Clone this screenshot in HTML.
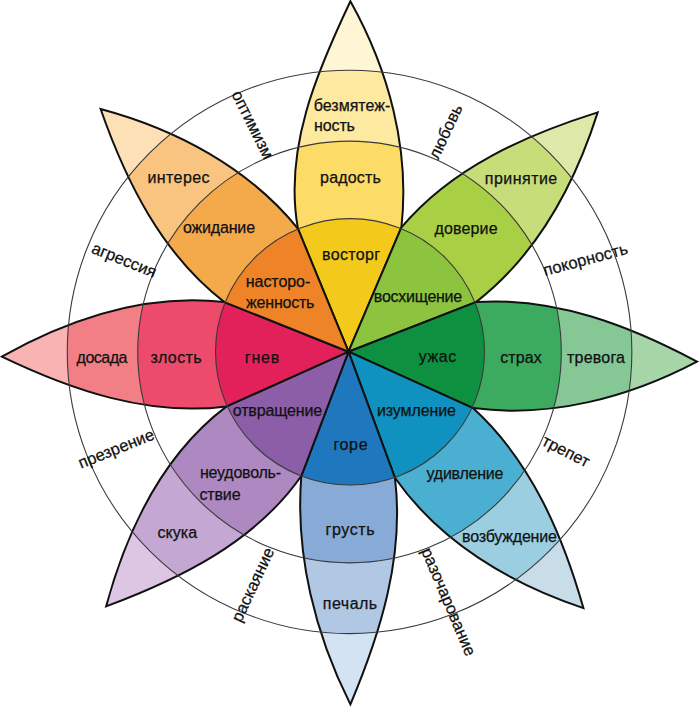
<!DOCTYPE html><html><head><meta charset="utf-8"><style>html,body{margin:0;padding:0;background:#fff;width:700px;height:707px;overflow:hidden}svg{display:block}text{font-family:"Liberation Sans",sans-serif}</style></head><body><svg width="700" height="707" viewBox="0 0 700 707"><defs><clipPath id="p0"><path d="M348.50,351.70 L297.90,228.60 C283.64,148.25 317.08,71.60 350.40,1.30 C388.47,69.55 410.17,148.78 401.40,227.40 Z"/></clipPath><clipPath id="p1"><path d="M348.50,351.70 L401.40,227.40 C451.67,167.50 525.11,135.28 597.70,112.40 C574.71,184.52 536.92,254.74 476.00,302.10 Z"/></clipPath><clipPath id="p2"><path d="M348.50,351.70 L476.00,302.10 C554.28,296.52 629.40,325.60 697.00,361.60 C628.84,397.50 550.46,418.31 473.00,408.10 Z"/></clipPath><clipPath id="p3"><path d="M348.50,351.70 L473.00,408.10 C530.88,460.73 562.49,534.54 583.40,608.10 C510.22,583.71 439.96,542.11 394.90,477.70 Z"/></clipPath><clipPath id="p4"><path d="M348.50,351.70 L394.90,477.70 C404.70,556.13 380.37,633.27 350.40,704.40 C315.14,634.18 295.09,554.98 301.30,476.00 Z"/></clipPath><clipPath id="p5"><path d="M348.50,351.70 L301.30,476.00 C254.78,542.52 179.54,578.88 106.10,606.40 C126.67,530.80 162.22,454.89 226.60,406.40 Z"/></clipPath><clipPath id="p6"><path d="M348.50,351.70 L226.60,406.40 C148.05,416.66 71.25,389.95 1.80,356.60 C68.97,318.97 146.24,293.06 224.40,302.10 Z"/></clipPath><clipPath id="p7"><path d="M348.50,351.70 L224.40,302.10 C161.91,254.06 125.98,181.46 100.60,109.00 C175.62,129.15 248.20,167.26 297.90,228.60 Z"/></clipPath></defs><rect width="700" height="707" fill="#fff"/><g clip-path="url(#p0)"><rect width="700" height="707" fill="#fef6d4"/><ellipse cx="349.55" cy="351.9" rx="282.3" ry="281.7" fill="#fde9a0"/><ellipse cx="349.5" cy="352.0" rx="211.8" ry="210.9" fill="#fcdc66"/><ellipse cx="350.0" cy="351.8" rx="134.5" ry="133.2" fill="#f3c91b"/></g><path d="M348.50,351.70 L297.90,228.60 C283.64,148.25 317.08,71.60 350.40,1.30 C388.47,69.55 410.17,148.78 401.40,227.40 Z" fill="none" stroke="#111" stroke-width="2.0" stroke-linejoin="miter" stroke-miterlimit="2.4"/><g clip-path="url(#p1)"><rect width="700" height="707" fill="#dde8a9"/><ellipse cx="349.55" cy="351.9" rx="282.3" ry="281.7" fill="#c6dd7a"/><ellipse cx="349.5" cy="352.0" rx="211.8" ry="210.9" fill="#a9cf45"/><ellipse cx="350.0" cy="351.8" rx="134.5" ry="133.2" fill="#8cc43f"/></g><path d="M348.50,351.70 L401.40,227.40 C451.67,167.50 525.11,135.28 597.70,112.40 C574.71,184.52 536.92,254.74 476.00,302.10 Z" fill="none" stroke="#111" stroke-width="2.0" stroke-linejoin="miter" stroke-miterlimit="2.4"/><g clip-path="url(#p2)"><rect width="700" height="707" fill="#a6d5a8"/><ellipse cx="349.55" cy="351.9" rx="282.3" ry="281.7" fill="#85c795"/><ellipse cx="349.5" cy="352.0" rx="211.8" ry="210.9" fill="#3cab5f"/><ellipse cx="350.0" cy="351.8" rx="134.5" ry="133.2" fill="#0e9041"/></g><path d="M348.50,351.70 L476.00,302.10 C554.28,296.52 629.40,325.60 697.00,361.60 C628.84,397.50 550.46,418.31 473.00,408.10 Z" fill="none" stroke="#111" stroke-width="2.0" stroke-linejoin="miter" stroke-miterlimit="2.4"/><g clip-path="url(#p3)"><rect width="700" height="707" fill="#c8dde8"/><ellipse cx="349.55" cy="351.9" rx="282.3" ry="281.7" fill="#9acee0"/><ellipse cx="349.5" cy="352.0" rx="211.8" ry="210.9" fill="#4aafd0"/><ellipse cx="350.0" cy="351.8" rx="134.5" ry="133.2" fill="#0f92c0"/></g><path d="M348.50,351.70 L473.00,408.10 C530.88,460.73 562.49,534.54 583.40,608.10 C510.22,583.71 439.96,542.11 394.90,477.70 Z" fill="none" stroke="#111" stroke-width="2.0" stroke-linejoin="miter" stroke-miterlimit="2.4"/><g clip-path="url(#p4)"><rect width="700" height="707" fill="#d4e3f2"/><ellipse cx="349.55" cy="351.9" rx="282.3" ry="281.7" fill="#b0c8e3"/><ellipse cx="349.5" cy="352.0" rx="211.8" ry="210.9" fill="#87aad6"/><ellipse cx="350.0" cy="351.8" rx="134.5" ry="133.2" fill="#1f78bd"/></g><path d="M348.50,351.70 L394.90,477.70 C404.70,556.13 380.37,633.27 350.40,704.40 C315.14,634.18 295.09,554.98 301.30,476.00 Z" fill="none" stroke="#111" stroke-width="2.0" stroke-linejoin="miter" stroke-miterlimit="2.4"/><g clip-path="url(#p5)"><rect width="700" height="707" fill="#dcc6e3"/><ellipse cx="349.55" cy="351.9" rx="282.3" ry="281.7" fill="#c4a7d3"/><ellipse cx="349.5" cy="352.0" rx="211.8" ry="210.9" fill="#ad88c1"/><ellipse cx="350.0" cy="351.8" rx="134.5" ry="133.2" fill="#8c5ea8"/></g><path d="M348.50,351.70 L301.30,476.00 C254.78,542.52 179.54,578.88 106.10,606.40 C126.67,530.80 162.22,454.89 226.60,406.40 Z" fill="none" stroke="#111" stroke-width="2.0" stroke-linejoin="miter" stroke-miterlimit="2.4"/><g clip-path="url(#p6)"><rect width="700" height="707" fill="#f9b3b3"/><ellipse cx="349.55" cy="351.9" rx="282.3" ry="281.7" fill="#f27f86"/><ellipse cx="349.5" cy="352.0" rx="211.8" ry="210.9" fill="#ec4b6b"/><ellipse cx="350.0" cy="351.8" rx="134.5" ry="133.2" fill="#e2215a"/></g><path d="M348.50,351.70 L226.60,406.40 C148.05,416.66 71.25,389.95 1.80,356.60 C68.97,318.97 146.24,293.06 224.40,302.10 Z" fill="none" stroke="#111" stroke-width="2.0" stroke-linejoin="miter" stroke-miterlimit="2.4"/><g clip-path="url(#p7)"><rect width="700" height="707" fill="#fde0b5"/><ellipse cx="349.55" cy="351.9" rx="282.3" ry="281.7" fill="#f9c47f"/><ellipse cx="349.5" cy="352.0" rx="211.8" ry="210.9" fill="#f4a94b"/><ellipse cx="350.0" cy="351.8" rx="134.5" ry="133.2" fill="#ee8427"/></g><path d="M348.50,351.70 L224.40,302.10 C161.91,254.06 125.98,181.46 100.60,109.00 C175.62,129.15 248.20,167.26 297.90,228.60 Z" fill="none" stroke="#111" stroke-width="2.0" stroke-linejoin="miter" stroke-miterlimit="2.4"/><ellipse cx="350.0" cy="351.8" rx="134.5" ry="133.2" fill="none" stroke="#3a3a3a" stroke-width="1.1"/><ellipse cx="349.5" cy="352.0" rx="211.8" ry="210.9" fill="none" stroke="#3a3a3a" stroke-width="1.1"/><ellipse cx="349.55" cy="351.9" rx="282.3" ry="281.7" fill="none" stroke="#3a3a3a" stroke-width="1.1"/><g font-family="Liberation Sans, sans-serif" font-size="16" fill="#111" stroke="#111" stroke-width="0.25"><text x="352" y="110.5" text-anchor="middle" textLength="76.54" lengthAdjust="spacing">безмятеж-</text><text x="334.5" y="131" text-anchor="middle" textLength="40.81" lengthAdjust="spacing">ность</text><text x="350.5" y="183" text-anchor="middle" textLength="60.8" lengthAdjust="spacing">радость</text><text x="351" y="260" text-anchor="middle" textLength="58.0" lengthAdjust="spacing">восторг</text><text x="521" y="183.6" text-anchor="middle" textLength="72.47" lengthAdjust="spacing">принятие</text><text x="466" y="234.3" text-anchor="middle" textLength="63.19" lengthAdjust="spacing">доверие</text><text x="418" y="302" text-anchor="middle" textLength="88.32" lengthAdjust="spacing">восхищение</text><text x="437.5" y="361.6" text-anchor="middle" textLength="37.48" lengthAdjust="spacing">ужас</text><text x="521" y="363" text-anchor="middle" textLength="41.52" lengthAdjust="spacing">страх</text><text x="596" y="363" text-anchor="middle" textLength="58.03" lengthAdjust="spacing">тревога</text><text x="416.5" y="416" text-anchor="middle" textLength="79.03" lengthAdjust="spacing">изумление</text><text x="465" y="479" text-anchor="middle" textLength="76.78" lengthAdjust="spacing">удивление</text><text x="509.5" y="542" text-anchor="middle" textLength="94.8" lengthAdjust="spacing">возбуждение</text><text x="350.5" y="449.5" text-anchor="middle" textLength="34.19" lengthAdjust="spacing">горе</text><text x="350" y="535" text-anchor="middle" textLength="49.15" lengthAdjust="spacing">грусть</text><text x="350" y="609" text-anchor="middle" textLength="54.34" lengthAdjust="spacing">печаль</text><text x="277.5" y="416" text-anchor="middle" textLength="89.43" lengthAdjust="spacing">отвращение</text><text x="240.5" y="478" text-anchor="middle" textLength="81.12" lengthAdjust="spacing">неудоволь-</text><text x="220" y="499.5" text-anchor="middle" textLength="41.07" lengthAdjust="spacing">ствие</text><text x="177.3" y="538" text-anchor="middle" textLength="39.84" lengthAdjust="spacing">скука</text><text x="262" y="363" text-anchor="middle" textLength="34.28" lengthAdjust="spacing">гнев</text><text x="176" y="363" text-anchor="middle" textLength="51.03" lengthAdjust="spacing">злость</text><text x="102" y="363" text-anchor="middle" textLength="50.78" lengthAdjust="spacing">досада</text><text x="278.05" y="286.5" text-anchor="middle" textLength="64.41" lengthAdjust="spacing">насторо-</text><text x="280.25" y="307.5" text-anchor="middle" textLength="68.34" lengthAdjust="spacing">женность</text><text x="219" y="233.3" text-anchor="middle" textLength="72.07" lengthAdjust="spacing">ожидание</text><text x="178.5" y="182.8" text-anchor="middle" textLength="62.02" lengthAdjust="spacing">интерес</text><text x="0" y="5.7" font-size="16.5" text-anchor="middle" transform="translate(252.9,124.7) rotate(63.5)">оптимизм</text><text x="0" y="5.7" font-size="16.5" text-anchor="middle" transform="translate(445.4,131.5) rotate(-65)">любовь</text><text x="0" y="5.7" font-size="16.5" text-anchor="middle" transform="translate(585.4,259.3) rotate(-15)">покорность</text><text x="0" y="5.7" font-size="16.5" text-anchor="middle" transform="translate(566,451) rotate(27)">трепет</text><text x="0" y="5.7" font-size="16.5" text-anchor="middle" transform="translate(448.8,601.7) rotate(67)">разочарование</text><text x="0" y="5.7" font-size="16.5" text-anchor="middle" transform="translate(252.7,584.6) rotate(-65)">раскаяние</text><text x="0" y="5.7" font-size="16.5" text-anchor="middle" transform="translate(116,448.5) rotate(-22)">презрение</text><text x="0" y="5.7" font-size="16.5" text-anchor="middle" transform="translate(124.3,259.9) rotate(22)">агрессия</text></g></svg></body></html>
